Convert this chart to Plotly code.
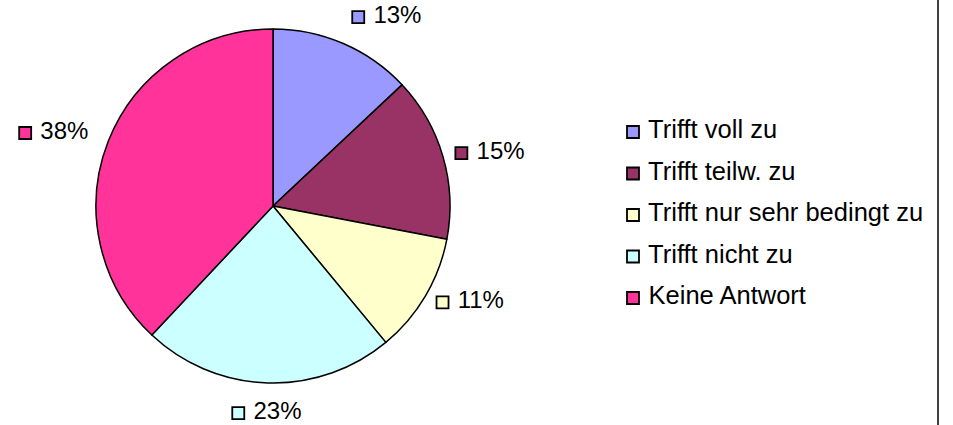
import math
import plotly.graph_objects as go

CATEGORIES = ["Trifft voll zu", "Trifft teilw. zu", "Trifft nur sehr bedingt zu",
              "Trifft nicht zu", "Keine Antwort"]
VALUES = [13, 15, 11, 23, 38]
COLORS = ["#9999FF", "#993366", "#FFFFCC", "#CCFFFF", "#FF3399"]

W, H = 953, 425
CX, CY, R = 273, 206, 177
FONT = dict(family="Liberation Sans, Arial, sans-serif", size=24, color="#000000")
LEG_FONT = dict(FONT, size=25.5)
SQUARE = dict(symbol="square", size=12, color=COLORS, line=dict(color="#000000", width=1.8))

fig = go.Figure()

fig.add_trace(go.Pie(
    labels=CATEGORIES,
    values=VALUES,
    sort=False,
    direction="clockwise",
    rotation=0,
    textinfo="none",
    hoverinfo="label+percent",
    marker=dict(colors=COLORS, line=dict(color="#000000", width=1.5)),
    domain=dict(x=[(CX - R) / W, (CX + R) / W], y=[1 - (CY + R) / H, 1 - (CY - R) / H]),
    showlegend=False,
))

# outside labels: placed from each slice's mid angle
total = sum(VALUES)
lab_x, lab_y, lab_txt = [], [], []
cum = 0
for v in VALUES:
    th = 2 * math.pi * (cum + v / 2) / total
    cum += v
    s, c = math.sin(th), math.cos(th)
    side = abs(c) < 0.6
    rr = 1.07 * R if side and s > 0 else 1.12 * R
    px, py = CX + rr * s, CY - rr * c
    box_w = 70
    if abs(s) < 0.3:
        x = px - box_w / 2 + 6.5
    elif s > 0:
        x = px + 6.5
    else:
        x = px - box_w + 6.5
    if side:
        y = py
    elif c > 0:
        y = py - 7
    else:
        y = py + 9
    lab_x.append(x)
    lab_y.append(y)
    lab_txt.append(f" {round(100 * v / total)}%")

fig.add_trace(go.Scatter(
    x=lab_x, y=lab_y, text=lab_txt,
    mode="markers+text", textposition="middle right",
    marker=SQUARE, textfont=FONT, hoverinfo="skip", showlegend=False,
))

# legend drawn by hand
leg_y0, leg_dy = 132, 41.5
fig.add_trace(go.Scatter(
    x=[633] * len(CATEGORIES),
    y=[leg_y0 + i * leg_dy for i in range(len(CATEGORIES))],
    text=[" " + t for t in CATEGORIES],
    mode="markers+text", textposition="middle right",
    marker=SQUARE, textfont=LEG_FONT, hoverinfo="skip", showlegend=False,
))

fig.add_shape(type="line", xref="x", yref="y", x0=938, x1=938, y0=0, y1=H,
              line=dict(color="#000000", width=1.5))

fig.update_layout(
    width=W, height=H,
    margin=dict(t=0, r=0, b=0, l=0),
    paper_bgcolor="#FFFFFF",
    plot_bgcolor="rgba(0,0,0,0)",
    font=FONT,
    xaxis=dict(range=[0, W], visible=False, fixedrange=True),
    yaxis=dict(range=[H, 0], visible=False, fixedrange=True),
)

fig.write_html("out.html", config={"displayModeBar": False},
               post_script="document.body.style.margin='0';")
